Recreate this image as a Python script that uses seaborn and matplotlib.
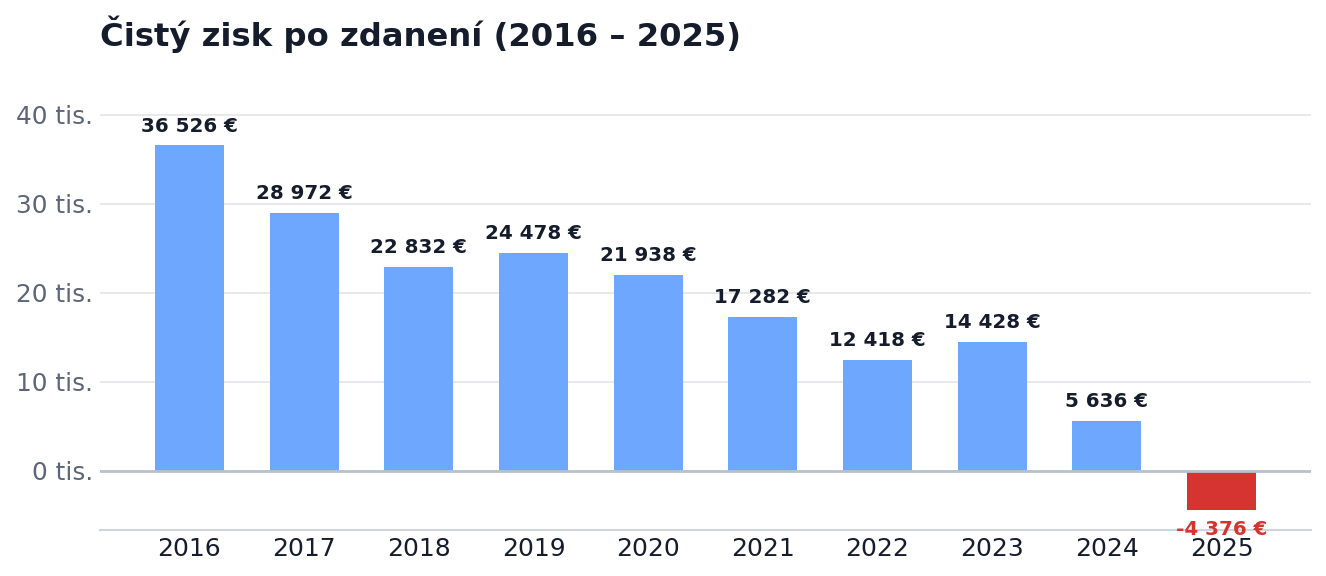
import numpy as np
import pandas as pd
import matplotlib
matplotlib.use("Agg")
import matplotlib.pyplot as plt
import seaborn as sns

years = ["2016", "2017", "2018", "2019", "2020", "2021", "2022", "2023", "2024", "2025"]
profit = [36526, 28972, 22832, 24478, 21938, 17282, 12418, 14428, 5636, -4376]
y_ticks = [0, 10000, 20000, 30000, 40000]

POS = "#6ea8fe"
NEG = "#d63430"
DARK = "#151c2c"
GRAY = "#5d6678"

sns.set_theme(style="white")
plt.rcParams["font.family"] = ["DejaVu Sans"]

df = pd.DataFrame({"year": years, "profit": profit})
colors = {y: (POS if v >= 0 else NEG) for y, v in zip(years, profit)}

fig = plt.figure(figsize=(13.26, 5.76), dpi=100)
ax = fig.add_axes([100 / 1326, 46 / 576, 1211 / 1326, 460 / 576])

sns.barplot(data=df, x="year", y="profit", hue="year", palette=colors,
            width=0.6, legend=False, saturation=1, linewidth=0, ax=ax, zorder=2)

ax.set_xlim(-0.78, 9.78)
ax.set_ylim(-6650, 45000)
ax.set_yticks(y_ticks)
ax.set_yticklabels([f"{int(t / 1000)} tis." for t in y_ticks])
ax.yaxis.grid(True, color="#e5e7eb", linewidth=1.3, zorder=0)
ax.axhline(0, color="#b9c1cc", linewidth=2, zorder=3)

for s in ["top", "right", "left"]:
    ax.spines[s].set_visible(False)
ax.spines["bottom"].set_color("#d1d5db")
ax.spines["bottom"].set_linewidth(1.5)

ax.tick_params(axis="y", labelsize=17.8, labelcolor=GRAY, length=0, pad=5)
ax.tick_params(axis="x", labelsize=18, labelcolor=DARK, length=0, pad=5)
ax.set_xlabel("")
ax.set_ylabel("")

for i, v in enumerate(profit):
    txt = f"{v:,}".replace(",", " ") + " €"
    if v >= 0:
        ax.annotate(txt, (i, v), xytext=(0, 14), textcoords="offset points",
                    ha="center", va="center", fontsize=14.3, fontweight="bold", color=DARK)
    else:
        ax.annotate(txt, (i, v), xytext=(0, -14), textcoords="offset points",
                    ha="center", va="center", fontsize=14.3, fontweight="bold", color=NEG)

fig.text(100 / 1326, 1 - 34 / 576, "Čistý zisk po zdanení (2016 – 2025)",
         ha="left", va="center", fontsize=23.2, fontweight="bold", color=DARK)

fig.savefig("out.png", dpi=100)
